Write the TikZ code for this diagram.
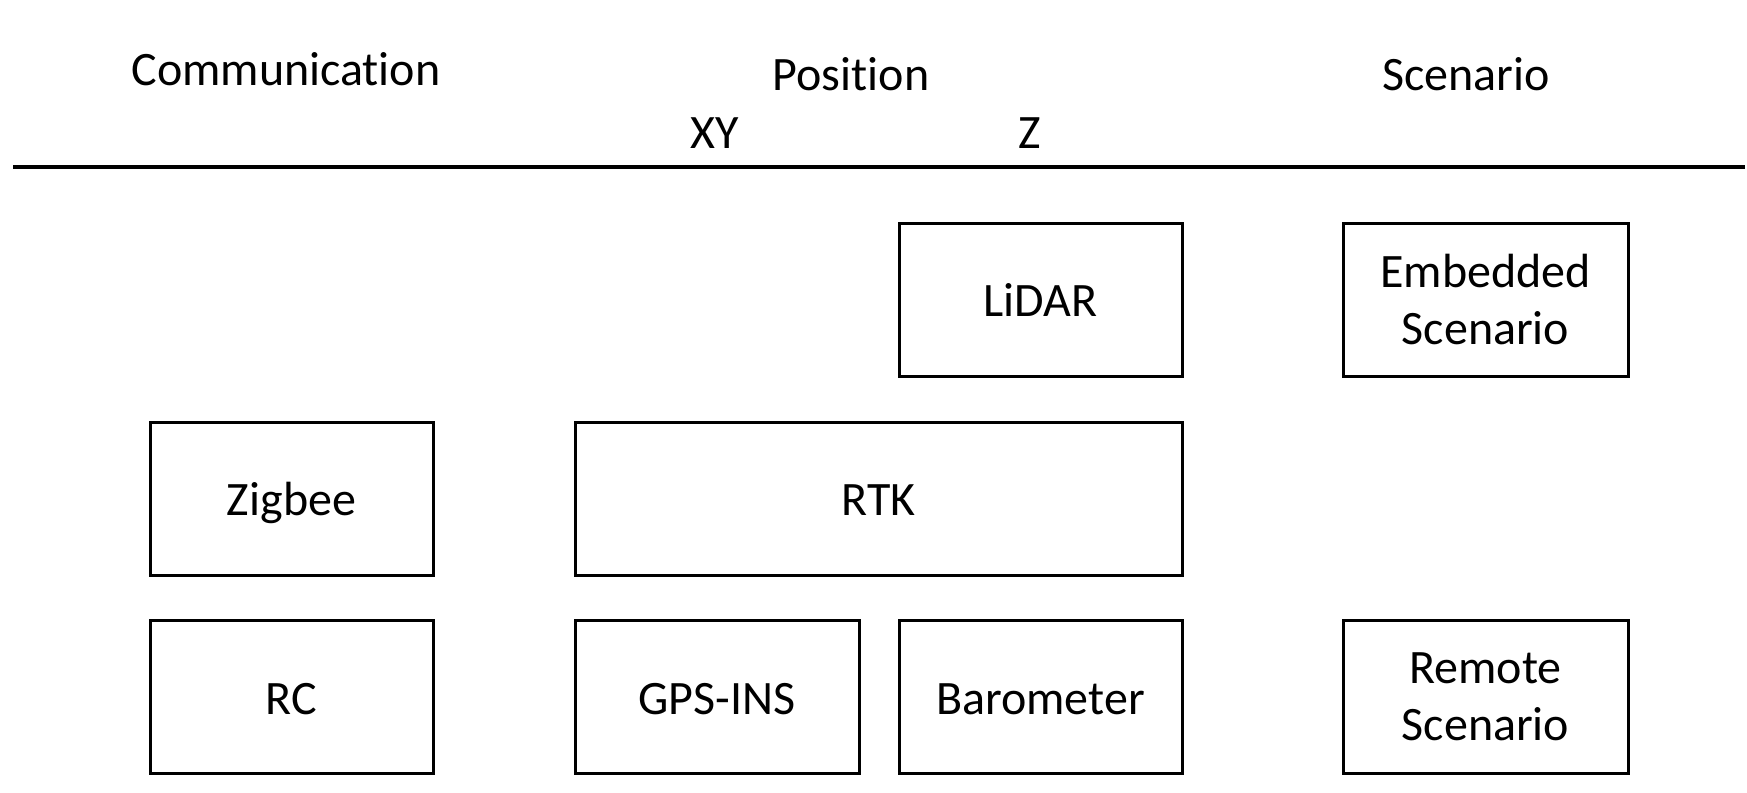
\documentclass[tikz,border=0pt]{standalone}
\usepackage{fontspec}
\setmainfont{Carlito}[Ligatures=NoCommon]
\usetikzlibrary{positioning}

\begin{document}
\begin{tikzpicture}[x=1pt,y=-1pt,
        box/.style={rectangle,draw,line width=3pt,minimum height=153pt,align=center,inner sep=0pt},
        onebox/.style={box,text height=34pt,text depth=0pt},
        head/.style={anchor=base,inner sep=0pt}]
            \useasboundingbox (0,0) rectangle (1747,792);
            \fontsize{48}{57}\selectfont
            \node [head] (Comm) at (286,85) {Communication};
            \node [head] (Pos) at (851,90) {Position};
            \node [head] (Scen) at (1466,90) {Scenario};
            \node [head] (XY) at (715,148) {XY};
            \node [head] (Z) at (1030,148) {Z};

            \coordinate (lineL) at (13,167);
            \coordinate (lineR) at (1745,167);
            \draw [line width=4.5pt](lineL) -- (lineR);

            \node [onebox,minimum width=283pt] (LiDAR) at (1040.5,299.5) {LiDAR};
            \node [box,minimum width=285pt] (Embed) at (1485.5,299.5) {Embedded\\Scenario};
            \node [onebox,minimum width=283pt] (Zigbee) at (291.5,498.5) {Zigbee};
            \node [onebox,minimum width=607pt] (RTK) at (878.5,498.5) {RTK};
            \node [onebox,minimum width=283pt] (RC) at (291.5,697) {RC};
            \node [onebox,minimum width=284pt] (GPS) at (717,697) {GPS-INS};
            \node [onebox,minimum width=283pt] (Baro) at (1040.5,697) {Barometer};
            \node [box,minimum width=285pt] (Remote) at (1485.5,697) {Remote\\Scenario};
        \end{tikzpicture}
\end{document}
